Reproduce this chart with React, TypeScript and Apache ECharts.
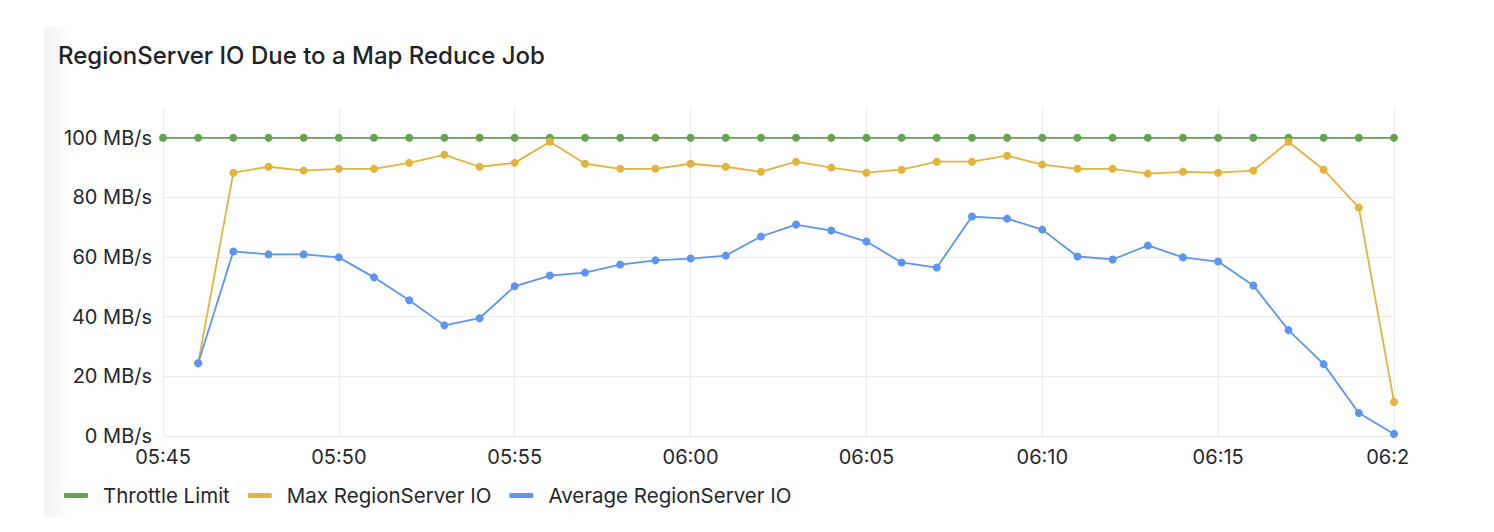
import React, { useEffect, useRef } from "react";
import * as echarts from "echarts";

const categories = [
  "05:45", "05:46", "05:47", "05:48", "05:49", "05:50", "05:51", "05:52", "05:53", "05:54",
  "05:55", "05:56", "05:57", "05:58", "05:59", "06:00", "06:01", "06:02", "06:03", "06:04",
  "06:05", "06:06", "06:07", "06:08", "06:09", "06:10", "06:11", "06:12", "06:13", "06:14",
  "06:15", "06:16", "06:17", "06:18", "06:19", "06:20",
];

const throttleLimit = [
  100, 100, 100, 100, 100, 100, 100, 100, 100, 100,
  100, 100, 100, 100, 100, 100, 100, 100, 100, 100,
  100, 100, 100, 100, 100, 100, 100, 100, 100, 100,
  100, 100, 100, 100, 100, 100,
];

const maxIO = [
  null, 24.4, 88.3, 90.3, 89.0, 89.6, 89.6, 91.6, 94.3, 90.3,
  91.6, 98.7, 91.3, 89.6, 89.6, 91.3, 90.3, 88.6, 92.0, 90.0,
  88.3, 89.3, 92.0, 92.0, 94.0, 91.0, 89.6, 89.6, 88.0, 88.6,
  88.3, 89.0, 98.7, 89.3, 76.6, 11.4,
];

const avgIO = [
  null, 24.4, 61.9, 60.9, 60.9, 59.9, 53.2, 45.5, 37.1, 39.5,
  50.2, 53.8, 54.8, 57.5, 58.9, 59.5, 60.5, 66.9, 70.9, 68.9,
  65.2, 58.2, 56.5, 73.6, 72.9, 69.2, 60.2, 59.2, 63.9, 59.9,
  58.5, 50.5, 35.5, 24.1, 7.7, 0.7,
];

const seriesNames = ["Throttle Limit", "Max RegionServer IO", "Average RegionServer IO"];
const colors = ["#65a350", "#e2b43c", "#5b95f0"];

const FONT = "Inter, 'Noto Sans', sans-serif";
const TEXT = "#24272b";

export default function App() {
  const ref = useRef<HTMLDivElement>(null);

  useEffect(() => {
    document.body.style.margin = "0";
    if (!ref.current) return;
    const chart = echarts.init(ref.current, null, { renderer: "svg" });
    const mk = (name: string, data: (number | null)[], color: string, z: number) => ({
      name,
      type: "line",
      data,
      z,
      symbol: "circle",
      symbolSize: 8,
      showSymbol: true,
      connectNulls: false,
      lineStyle: { color, width: 1.8 },
      itemStyle: { color },
      emphasis: { disabled: true },
    });
    chart.setOption({
      animation: false,
      textStyle: { fontFamily: FONT },
      title: {
        text: "RegionServer IO Due to a Map Reduce Job",
        left: 53,
        top: 38,
        textStyle: { fontFamily: FONT, fontSize: 24, fontWeight: 500, color: "#1f2226" },
      },
      legend: {
        left: 59,
        top: 480,
        icon: "roundRect",
        itemWidth: 24,
        itemHeight: 5,
        itemGap: 18,
        data: seriesNames,
        textStyle: { fontFamily: FONT, fontSize: 20.5, color: TEXT, padding: [0, 0, 0, 10] },
      },
      grid: { left: 163, right: 15, top: 108, bottom: 96, containLabel: false, outerBoundsMode: "none" },
      xAxis: {
        type: "category",
        boundaryGap: false,
        data: categories,
        axisLine: { show: false },
        axisTick: { show: false },
        axisLabel: {
          interval: 4,
          margin: 11,
          fontFamily: FONT,
          fontSize: 20,
          color: TEXT,
          hideOverlap: false,
        },
        splitLine: { show: true, interval: 4, lineStyle: { color: "#ebebeb", width: 1 } },
      },
      yAxis: {
        type: "value",
        min: 0,
        max: 110,
        interval: 20,
        axisLine: { show: false },
        axisTick: { show: false },
        axisLabel: {
          showMaxLabel: false,
          margin: 11,
          fontFamily: FONT,
          fontSize: 20,
          color: TEXT,
          formatter: (v: number) => (v > 100 ? "" : `${v} MB/s`),
        },
        splitLine: {
          show: true,
          lineStyle: {
            color: ["#ebebeb", "#ebebeb", "#ebebeb", "#ebebeb", "#ebebeb", "#ebebeb", "rgba(0,0,0,0)"],
            width: 1,
          },
        },
      },
      series: [
        mk(seriesNames[0], throttleLimit, colors[0], 2),
        mk(seriesNames[1], maxIO, colors[1], 3),
        mk(seriesNames[2], avgIO, colors[2], 4),
      ],
    });
    return () => chart.dispose();
  }, []);

  return (
    <div style={{ position: "relative", width: 1494, height: 532, background: "#ffffff", overflow: "hidden" }}>
      <div
        style={{
          position: "absolute",
          left: 44,
          top: 27,
          width: 40,
          height: 490,
          background: "linear-gradient(to right, #f2f2f2 0px, #f8f8f8 12px, #ffffff 26px)",
        }}
      />
      <div ref={ref} style={{ position: "absolute", left: 0, top: 0, width: 1409, height: 532 }} />
    </div>
  );
}
